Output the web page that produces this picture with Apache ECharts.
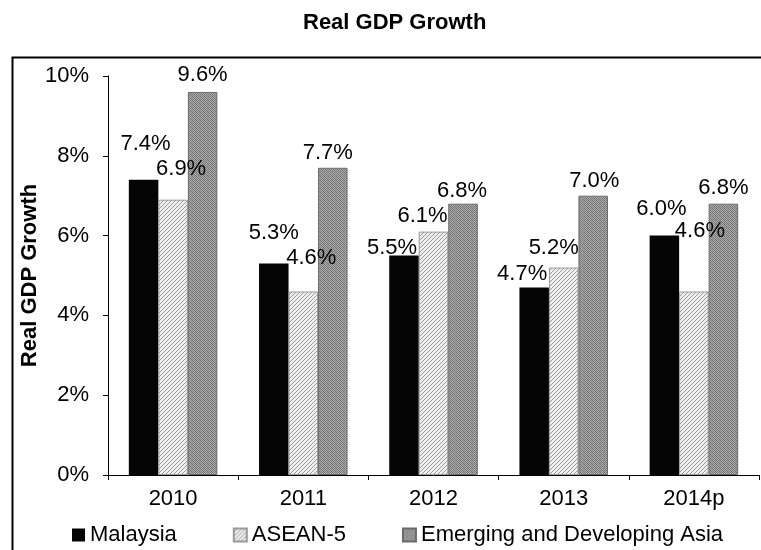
<!DOCTYPE html>
<html>
<head>
<meta charset="utf-8">
<title>Real GDP Growth</title>
<script src="https://cdn.jsdelivr.net/npm/echarts@6/dist/echarts.min.js"></script>
<style>
  html, body { margin: 0; padding: 0; background: #fff; }
  #chart { width: 761px; height: 550px; }
</style>
</head>
<body>
<div id="chart"></div>
<script>
// Categories and annual real GDP growth (%)
const years = ['2010', '2011', '2012', '2013', '2014p'];
const seriesNames = ['Malaysia', 'ASEAN-5', 'Emerging and Developing Asia'];
const malaysia = [7.4, 5.3, 5.5, 4.7, 6.0];
const asean5 = [6.9, 4.6, 6.1, 5.2, 4.6];
const emergingAsia = [9.6, 7.7, 6.8, 7.0, 6.8];
const yTicks = [0, 2, 4, 6, 8, 10];

// Hand-placed value labels: [dx, lift] in px relative to each bar top
const labelNudge = [
  [[2, 25], [0, 20], [-12, -3], [-12, 3], [-3, 16]],
  [[8, 20], [8, 23], [-11, 5], [-10, 9], [6, 50]],
  [[0, 6], [-5, 4], [-1, 2], [1, 4], [0, 5]]
];

const FONT = 'Liberation Sans, Arial, sans-serif';

// Fill patterns: fine diagonal hatch and dark stipple
function hatchPattern() {
  const c = document.createElement('canvas');
  c.width = 4; c.height = 4;
  const g = c.getContext('2d');
  g.fillStyle = '#efefef';
  g.fillRect(0, 0, 4, 4);
  g.strokeStyle = '#999999';
  g.lineWidth = 1;
  g.beginPath();
  g.moveTo(0, 4); g.lineTo(4, 0);
  g.moveTo(-2, 2); g.lineTo(2, -2);
  g.moveTo(2, 6); g.lineTo(6, 2);
  g.stroke();
  return c;
}
function stipplePattern() {
  const c = document.createElement('canvas');
  c.width = 4; c.height = 4;
  const g = c.getContext('2d');
  const shades = [
    ['#6a6a6a', '#b4b4b4', '#7a7a7a', '#a4a4a4'],
    ['#acacac', '#727272', '#b8b8b8', '#808080'],
    ['#7e7e7e', '#a8a8a8', '#666666', '#b0b0b0'],
    ['#a0a0a0', '#848484', '#acacac', '#747474']
  ];
  for (let y = 0; y < 4; y++) {
    for (let x = 0; x < 4; x++) {
      g.fillStyle = shades[y][x];
      g.fillRect(x, y, 1, 1);
    }
  }
  return c;
}

const fills = [
  '#050505',
  { image: hatchPattern(), repeat: 'repeat' },
  { image: stipplePattern(), repeat: 'repeat' }
];
const borders = [
  { borderWidth: 0 },
  { borderColor: '#9a9a9a', borderWidth: 1 },
  { borderColor: '#6a6a6a', borderWidth: 1 }
];

const values = [malaysia, asean5, emergingAsia];

const series = seriesNames.map((name, s) => ({
  name: name,
  type: 'bar',
  barGap: '0%',
  barCategoryGap: '32%',
  itemStyle: Object.assign({ color: fills[s] }, borders[s]),
  label: {
    show: true,
    position: 'top',
    distance: 0,
    color: '#000',
    fontSize: 22,
    fontFamily: FONT,
    formatter: p => p.value.toFixed(1) + '%'
  },
  data: values[s].map((v, i) => ({
    value: v,
    label: { offset: [labelNudge[s][i][0], -labelNudge[s][i][1]] }
  }))
}));

const chart = echarts.init(document.getElementById('chart'), null, { renderer: 'canvas' });

chart.setOption({
  animation: false,
  backgroundColor: '#fff',
  textStyle: { fontFamily: FONT },
  title: {
    text: 'Real GDP Growth',
    left: 298,
    top: 7,
    textStyle: { fontSize: 22, fontWeight: 'bold', color: '#000', fontFamily: FONT }
  },
  graphic: [{
    type: 'rect',
    silent: true,
    shape: { x: 12.5, y: 57.5, width: 800, height: 600 },
    style: { fill: 'none', stroke: '#000', lineWidth: 2 }
  }],
  legend: {
    left: 67,
    top: 519,
    itemWidth: 13,
    itemHeight: 13,
    itemGap: 56,
    icon: 'rect',
    textStyle: { fontSize: 22, color: '#000', fontFamily: FONT },
    data: seriesNames
  },
  grid: { left: 108, right: 2, top: 76, bottom: 75, containLabel: false },
  xAxis: {
    type: 'category',
    data: years,
    axisLine: { lineStyle: { color: '#000', width: 1 } },
    axisTick: { show: true, length: 5, lineStyle: { color: '#000' } },
    axisLabel: { color: '#000', fontSize: 22, margin: 13, fontFamily: FONT }
  },
  yAxis: {
    type: 'value',
    min: yTicks[0],
    max: yTicks[yTicks.length - 1],
    interval: yTicks[1] - yTicks[0],
    name: 'Real GDP Growth',
    nameLocation: 'middle',
    nameGap: 67,
    nameMoveOverlap: false,
    nameTextStyle: { fontSize: 22, fontWeight: 'bold', color: '#000', fontFamily: FONT },
    axisLine: { show: true, lineStyle: { color: '#000', width: 1 } },
    axisTick: { show: true, length: 5, lineStyle: { color: '#000' } },
    splitLine: { show: false },
    axisLabel: { color: '#000', fontSize: 22, margin: 19, fontFamily: FONT, formatter: v => v + '%' }
  },
  series: series
});
</script>
</body>
</html>
